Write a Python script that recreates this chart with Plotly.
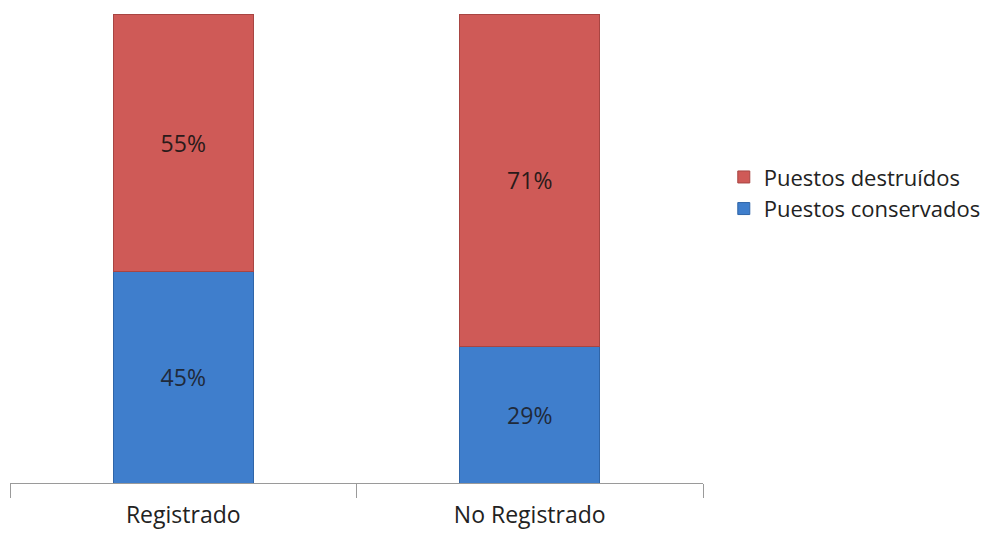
import plotly.graph_objects as go

categories = ["Registrado", "No Registrado"]
conservados = [45, 29]
destruidos = [55, 71]
series_names = ["Puestos conservados", "Puestos destruídos"]
label_conservados = ["45%", "29%"]
label_destruidos = ["55%", "71%"]

FONT = "Open Sans"

fig = go.Figure()
fig.add_trace(go.Bar(
    x=categories, y=conservados, name=series_names[0],
    marker=dict(color="#3F7ECC", line=dict(color="#2F65A8", width=1)),
    text=label_conservados, textposition="inside", insidetextanchor="middle",
    textfont=dict(family=FONT, size=23, color="#1f2a3a"),
))
fig.add_trace(go.Bar(
    x=categories, y=destruidos, name=series_names[1],
    marker=dict(color="#CF5A57", line=dict(color="#A84542", width=1)),
    text=label_destruidos, textposition="inside", insidetextanchor="middle",
    textfont=dict(family=FONT, size=23, color="#2a1a1a"),
))

fig.update_layout(
    barmode="stack",
    bargap=0.595,
    width=992, height=533,
    margin=dict(l=2, r=297, t=6, b=58, autoexpand=False),
    paper_bgcolor="white", plot_bgcolor="white",
    font=dict(family=FONT, size=24, color="#222222"),
    showlegend=True,
    legend=dict(
        x=1.030, xanchor="left", y=0.618, yanchor="middle",
        traceorder="reversed",
        font=dict(family=FONT, size=22, color="#222222"),
        itemwidth=30, tracegroupgap=0,
    ),
    uniformtext=dict(mode="show", minsize=10),
)
fig.update_xaxes(
    showline=True, linecolor="#9a9a9a", linewidth=1,
    ticks="outside", ticklen=14, tickcolor="#9a9a9a",
    tickson="boundaries", showgrid=False,
    ticklabelstandoff=11,
    tickfont=dict(family=FONT, size=23, color="#222222"),
)
fig.update_yaxes(range=[0, 100], visible=False, showgrid=False)

fig.write_html("out.html")
